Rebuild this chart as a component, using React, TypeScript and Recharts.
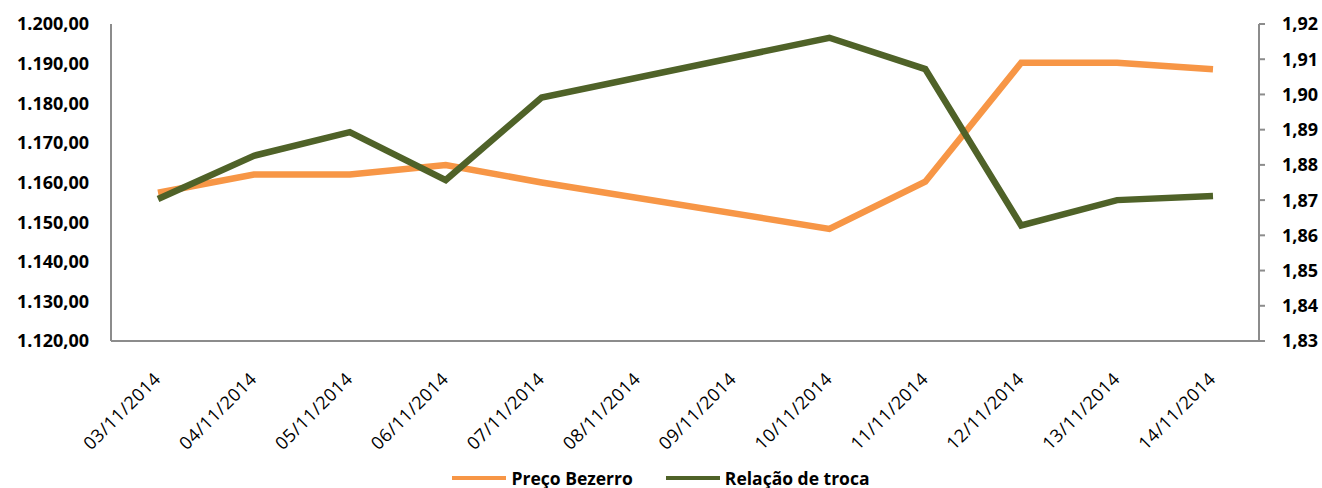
import React from "react"
import { LineChart, Line, XAxis, YAxis, Legend } from "recharts"

const dates = [
  "03/11/2014", "04/11/2014", "05/11/2014", "06/11/2014", "07/11/2014", "08/11/2014",
  "09/11/2014", "10/11/2014", "11/11/2014", "12/11/2014", "13/11/2014", "14/11/2014",
]
const precoBezerro = [1157.4, 1162.0, 1162.0, 1164.4, 1160.0, null, null, 1148.3, 1160.2, 1190.2, 1190.2, 1188.6]
const relacaoTroca = [1.8703, 1.8826, 1.8893, 1.8757, 1.8991, null, null, 1.9161, 1.9072, 1.8628, 1.87, 1.8712]
const leftTicks = [1120, 1130, 1140, 1150, 1160, 1170, 1180, 1190, 1200]
const rightTicks = [1.83, 1.84, 1.85, 1.86, 1.87, 1.88, 1.89, 1.9, 1.91, 1.92]

const data = dates.map((d, i) => ({ date: d, preco: precoBezerro[i], relacao: relacaoTroca[i] }))

const ORANGE = "#F79646"
const GREEN = "#4F6228"
const AXIS = "#8c8c8c"
const FONT = "'Open Sans', sans-serif"

// 1.200,00 style
function fmtLeft(v: number) {
  const [int, dec] = v.toFixed(2).split(".")
  const withDots = int.replace(/\B(?=(\d{3})+(?!\d))/g, ".")
  return withDots + "," + dec
}
const fmtRight = (v: number) => v.toFixed(2).replace(".", ",")

function DateTick(props: any) {
  const { x, y, payload } = props
  const ax = x + 4
  const ay = y + 31
  return (
    <text
      x={ax}
      y={ay}
      transform={`rotate(-45 ${ax} ${ay})`}
      textAnchor="end"
      fontFamily={FONT}
      fontSize={18}
      letterSpacing={0.5}
      fill="#000"
    >
      {payload.value}
    </text>
  )
}

function LegendBox() {
  const items = [
    { label: "Preço Bezerro", color: ORANGE },
    { label: "Relação de troca", color: GREEN },
  ]
  return (
    <div
      style={{
        display: "flex",
        justifyContent: "center",
        gap: 33,
        fontFamily: FONT,
        fontWeight: 700,
        fontSize: 17.5,
        lineHeight: "20px",
        height: 20,
      }}
    >
      {items.map((it) => (
        <div key={it.label} style={{ display: "flex", alignItems: "center", gap: 5 }}>
          <svg width={54} height={8}>
            <line x1={0} y1={4} x2={54} y2={4} stroke={it.color} strokeWidth={4} />
          </svg>
          <span>{it.label}</span>
        </div>
      ))}
    </div>
  )
}

export default function App() {
  return (
    <div style={{ position: "absolute", left: 0, top: 0, background: "#fff" }}>
      <LineChart width={1322} height={488} data={data} margin={{ top: 24, right: 0, bottom: 0, left: 0 }}>
        <XAxis
          dataKey="date"
          interval={0}
          tickLine={false}
          axisLine={{ stroke: AXIS, strokeWidth: 2 }}
          height={127}
          padding={{ left: 47, right: 46 }}
          tick={<DateTick />}
        />
        <YAxis
          yAxisId="left"
          domain={[1120, 1200]}
          ticks={leftTicks}
          tickFormatter={fmtLeft}
          width={111}
          tickLine={false}
          tickSize={0}
          tickMargin={22}
          axisLine={{ stroke: AXIS, strokeWidth: 2 }}
          tick={{ fill: "#000", fontSize: 18, fontWeight: 700, fontFamily: FONT }}
        />
        <YAxis
          yAxisId="right"
          orientation="right"
          domain={[1.83, 1.92]}
          ticks={rightTicks}
          tickFormatter={fmtRight}
          width={63}
          tickSize={6}
          tickMargin={17}
          tickLine={{ stroke: AXIS, strokeWidth: 2 }}
          axisLine={{ stroke: AXIS, strokeWidth: 2 }}
          tick={{ fill: "#000", fontSize: 18, fontWeight: 700, fontFamily: FONT, textAnchor: "start" }}
        />
        <Legend verticalAlign="bottom" height={20} content={<LegendBox />} />
        <Line
          yAxisId="left"
          type="linear"
          dataKey="preco"
          name="Preço Bezerro"
          stroke={ORANGE}
          strokeWidth={6.5}
          dot={false}
          connectNulls
          isAnimationActive={false}
        />
        <Line
          yAxisId="right"
          type="linear"
          dataKey="relacao"
          name="Relação de troca"
          stroke={GREEN}
          strokeWidth={6.5}
          dot={false}
          connectNulls
          isAnimationActive={false}
        />
      </LineChart>
    </div>
  )
}
